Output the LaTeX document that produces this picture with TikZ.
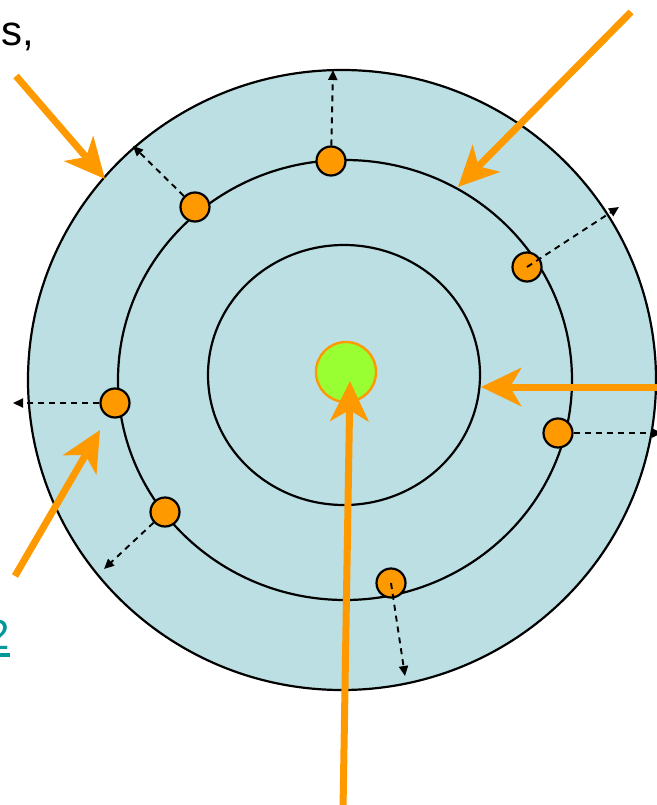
\documentclass[tikz,border=0pt]{standalone}
\usepackage{fontspec}
\setmainfont{Liberation Sans}
\usetikzlibrary{arrows.meta,shapes.geometric}
\definecolor{shellblue}{RGB}{187,223,227}
\definecolor{eorange}{RGB}{255,153,0}
\definecolor{nucgreen}{RGB}{153,255,51}
\definecolor{linkteal}{RGB}{0,153,153}
\tikzset{
  orbit/.style={ellipse,draw=black,line width=2.2pt,inner sep=0pt},
  electron/.style={circle,draw=black,fill=eorange,line width=2.2pt,minimum size=29pt,inner sep=0pt},
  emit/.style={draw=black,line width=1.9pt,dash pattern=on 6pt off 5pt,-{Triangle[length=10pt,width=9pt]}},
  pointer/.style={draw=eorange,line width=7pt,-{Stealth[length=40pt,width=38pt,inset=11pt]}},
  slidetext/.style={inner sep=0pt,font=\fontsize{42}{48}\selectfont}
}
\begin{document}
\begin{tikzpicture}[x=1pt,y=-1pt]
\useasboundingbox (0,0) rectangle (656,805);
% shells
\node[orbit,fill=shellblue,minimum width=628pt,minimum height=620pt] (outer) at (342,380) {};
\node[orbit,minimum width=454pt,minimum height=440pt] (middle) at (345,380) {};
\node[orbit,minimum width=272pt,minimum height=260pt] (inner) at (344,375) {};
% nucleus
\node[circle,draw=eorange,fill=nucgreen,line width=2.4pt,minimum size=60pt,inner sep=0pt] (nuc) at (346,372) {};
% emission targets
\coordinate (t1) at (333,70);
\coordinate (t2) at (133,146);
\coordinate (t3) at (619,207);
\coordinate (t4) at (13,403);
\coordinate (t5) at (662,433);
\coordinate (t6) at (104,569);
\coordinate (t7) at (405,676);
% electrons
\node[electron] (e1) at (331,161) {};
\node[electron] (e2) at (195,207) {};
\node[electron] (e3) at (527,267) {};
\node[electron] (e4) at (115,403) {};
\node[electron] (e5) at (558,433) {};
\node[electron] (e6) at (165,512) {};
\node[electron] (e7) at (391,583) {};
% emissions
\draw[emit] (e1) -- (t1);
\draw[emit] (e2) -- (t2);
\draw[emit] (e3.center) -- (t3);
\draw[emit] (e4) -- (t4);
\draw[emit] (e5) -- (t5);
\draw[emit] (e6) -- (t6);
\draw[emit] (e7.center) -- (t7);
% pointer arrows
\coordinate (p1s) at (16,76);
\coordinate (p1e) at (105,179);
\coordinate (p2s) at (631,12);
\coordinate (p2e) at (458,187);
\coordinate (p3s) at (660,387);
\coordinate (p3e) at (481,387);
\coordinate (p4s) at (15,576);
\coordinate (p4e) at (100,430);
\coordinate (p5s) at (343,810);
\coordinate (p5e) at (350,381);
\draw[pointer] (p1s) -- (p1e);
\draw[pointer] (p2s) -- (p2e);
\draw[pointer] (p3s) -- (p3e);
\draw[pointer] (p4s) -- (p4e);
\draw[pointer] (p5s) -- (p5e);
% text fragments at the edges
\node[slidetext,anchor=base west] (txts) at (1,46) {s,};
\node[slidetext,anchor=base east,text=linkteal] (txt2) at (10,649) {2};
\draw[linkteal,line width=3.5pt] (-30,655) -- (10,655);
\end{tikzpicture}
\end{document}
